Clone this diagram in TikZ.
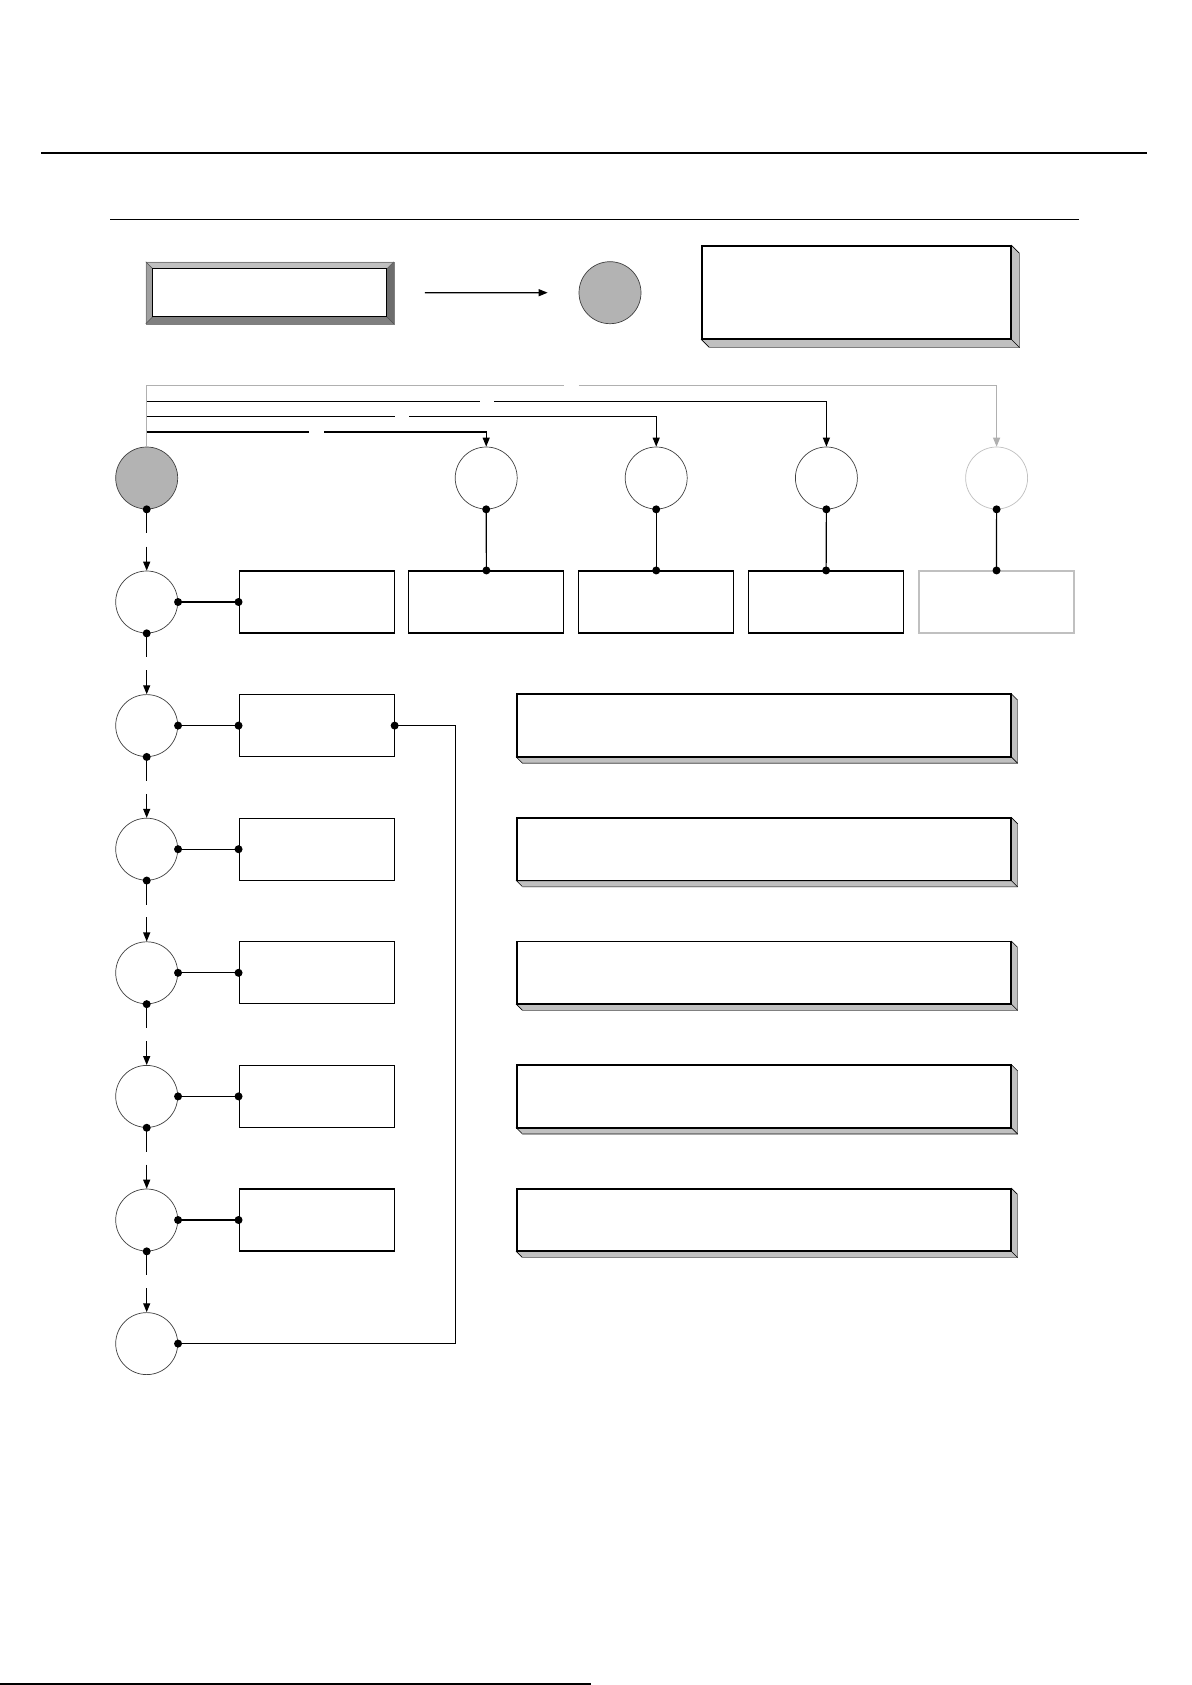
\documentclass[tikz,border=0pt]{standalone}
\usetikzlibrary{arrows.meta,calc}
\definecolor{cfill}{HTML}{B3B3B3}
\definecolor{lgray}{HTML}{C0C0C0}
\definecolor{dgray}{HTML}{808080}
\definecolor{mgray}{HTML}{A0A0A0}
\definecolor{cline}{HTML}{404040}
\definecolor{gline}{HTML}{B0B0B0}
\newcommand\sidefaces[2]{%
  \filldraw[side] (#1.north east) -- ([shift={(#2,#2)}]#1.north east) -- ([shift={(#2,#2)}]#1.south east) -- ([shift={(#2,#2)}]#1.south west) -- (#1.south west) -- (#1.south east) -- cycle;
  \draw[sideedge] ([shift={(#2,#2)}]#1.north east) -- ([shift={(#2,#2)}]#1.south east) -- ([shift={(#2,#2)}]#1.south west);
  \draw[conn,line width=0.6pt] (#1.south east) -- ([shift={(#2,#2)}]#1.south east);
  \draw[conn] (#1.north west) rectangle (#1.south east);
}
\begin{document}
\begin{tikzpicture}[x=1pt,y=-1pt,
  conn/.style={line width=1.2pt,draw=black},
  arr/.style={conn,-{Triangle[length=9pt,width=7pt]}},
  gconn/.style={line width=1.2pt,draw=gline},
  garr/.style={gconn,-{Triangle[length=9pt,width=7pt]}},
  circ/.style={circle,draw=cline,line width=0.7pt,minimum size=62pt,inner sep=0pt,fill=white},
  gcirc/.style={circ,fill=cfill},
  lcirc/.style={circ,draw=lgray},
  sbox/.style={rectangle,draw=black,line width=1.1pt,minimum width=155pt,minimum height=62pt,inner sep=0pt,fill=white},
  lbox/.style={sbox,draw=lgray},
  wbox/.style={sbox,minimum width=494pt},
  tbox/.style={sbox,minimum width=309pt,minimum height=93pt},
  bevbox/.style={rectangle,draw=none,minimum width=247.5pt,minimum height=61.5pt,inner sep=0pt},
  dotm/.style={fill=black},
  side/.style={fill=lgray,draw=black,line width=0.6pt},
  sideedge/.style={draw=dgray,line width=1pt},
  thickrule/.style={line width=2pt,draw=black},
  thinrule/.style={line width=1.1pt,draw=black}
]
\fill[white] (0,0) rectangle (1191,1685);
\useasboundingbox (0,0) rectangle (1191,1685);

% rules
\coordinate (r1a) at (41,152.7); \coordinate (r1b) at (1147,152.7);
\coordinate (r2a) at (110,219.3); \coordinate (r2b) at (1079,219.3);
\coordinate (r3a) at (0,1683.5); \coordinate (r3b) at (591,1683.5);
\draw[thickrule] (r1a) -- (r1b);
\draw[thinrule] (r2a) -- (r2b);
\draw[thickrule] (r3a) -- (r3b);

% top legend: bevel box, arrow, gray circle, 3D box
\node[bevbox] (bev) at (269.8,292.8) {};
\fill[lgray] (bev.north west) -- (bev.north east) -- ([shift={(-7,7)}]bev.north east) -- ([shift={(7,7)}]bev.north west) -- cycle;
\fill[mgray] (bev.north west) -- ([shift={(7,7)}]bev.north west) -- ([shift={(7,-7)}]bev.south west) -- (bev.south west) -- cycle;
\fill[dgray] (bev.south west) -- ([shift={(7,-7)}]bev.south west) -- ([shift={(-7,-7)}]bev.south east) -- (bev.south east) -- cycle;
\fill[dgray!85!black] (bev.north east) -- (bev.south east) -- ([shift={(-7,-7)}]bev.south east) -- ([shift={(-7,7)}]bev.north east) -- cycle;
\draw[line width=0.5pt,draw=dgray] (bev.north west) rectangle (bev.south east);
\draw[line width=0.5pt,draw=dgray!60!black] (bev.north west) -- ([shift={(7,7)}]bev.north west)
  (bev.north east) -- ([shift={(-7,7)}]bev.north east)
  (bev.south west) -- ([shift={(7,-7)}]bev.south west)
  (bev.south east) -- ([shift={(-7,-7)}]bev.south east);
\fill[white] ([shift={(7,7)}]bev.north west) rectangle ([shift={(-7,-7)}]bev.south east);
\draw[conn] ([shift={(7,7)}]bev.north west) rectangle ([shift={(-7,-7)}]bev.south east);

\node[gcirc] (gtop) at (610,292.7) {};
\draw[arr] ([xshift=31pt]bev.east) -- ([xshift=-31pt]gtop.west);

\node[tbox] (tb) at (856.5,292.5) {};
\sidefaces{tb}{8}

% top row circles
\node[gcirc] (c0) at (146.7,478) {};
\node[circ] (t1) at (486.2,478) {};
\node[circ] (t2) at (656.2,478) {};
\node[circ] (t3) at (826.4,478) {};
\node[lcirc] (t4) at (996.6,478) {};

% distribution lines from c0
\coordinate (g1) at (563.6,385.3); \coordinate (g2) at (578.8,385.3);
\coordinate (h1) at (480,401.3);   \coordinate (h2) at (494,401.3);
\coordinate (k1) at (395,416.3);   \coordinate (k2) at (409,416.3);
\coordinate (m1) at (309,432);     \coordinate (m2) at (324,432);
\draw[gconn] (c0.north) |- (g1);
\draw[garr] (g2) -| (t4.north);
\draw[conn] (c0.north |- h1) -- (h1);
\draw[arr] (h2) -| (t3.north);
\draw[conn] (c0.north |- k1) -- (k1);
\draw[arr] (k2) -| (t2.north);
\draw[conn] (c0.north |- m1) -- (m1);
\draw[arr] (m2) -| (t1.north);

% left column circles
\node[circ] (c1) at (146.7,602) {};
\node[circ] (c2) at (146.7,725.6) {};
\node[circ] (c3) at (146.7,849.2) {};
\node[circ] (c4) at (146.7,972.8) {};
\node[circ] (c5) at (146.7,1096.4) {};
\node[circ] (c6) at (146.7,1220) {};
\node[circ] (c7) at (146.7,1343.6) {};

% first row boxes
\node[sbox] (b0) at (316.6,602) {};
\node[sbox] (b1) at (486.4,602) {};
\node[sbox] (b2) at (656.2,602) {};
\node[sbox] (b3) at (826.1,602) {};
\node[lbox] (b4) at (996.5,602) {};

% left boxes
\node[sbox] (l2) at (316.6,725.6) {};
\node[sbox] (l3) at (316.6,849.2) {};
\node[sbox] (l4) at (316.6,972.8) {};
\node[sbox] (l5) at (316.6,1096.4) {};
\node[sbox] (l6) at (316.6,1220) {};

% wide 3D boxes
\node[wbox] (w2) at (764,725.6) {};
\sidefaces{w2}{6}
\node[wbox] (w3) at (764,849.2) {};
\sidefaces{w3}{6}
\node[wbox] (w4) at (764,972.8) {};
\sidefaces{w4}{6}
\node[wbox] (w5) at (764,1096.4) {};
\sidefaces{w5}{6}
\node[wbox] (w6) at (764,1220) {};
\sidefaces{w6}{6}

% vertical chain
\foreach \a/\b in {c0/c1,c1/c2,c2/c3,c3/c4,c4/c5,c5/c6,c6/c7}{
  \draw[conn] (\a.south) -- ([yshift=-24pt]\a.south);
  \draw[arr] ([yshift=24pt]\b.north) -- (\b.north);
  \fill[dotm] (\a.south) circle (4pt);
}

% top circles to boxes
\foreach \t/\b in {t1/b1,t2/b2,t3/b3,t4/b4}{
  \draw[conn] (\t.south) -- (\b.north);
  \fill[dotm] (\t.south) circle (4pt);
  \fill[dotm] (\b.north) circle (4pt);
}

% circles to left boxes
\foreach \c/\b in {c1/b0,c2/l2,c3/l3,c4/l4,c5/l5,c6/l6}{
  \draw[conn] (\c.east) -- (\b.west);
  \fill[dotm] (\c.east) circle (4pt);
  \fill[dotm] (\b.west) circle (4pt);
}

% long return path
\coordinate (lp) at (455.5,725.6);
\draw[conn] (l2.east) -- (lp) |- (c7.east);
\fill[dotm] (l2.east) circle (4pt);
\fill[dotm] (c7.east) circle (4pt);
\end{tikzpicture}
\end{document}
